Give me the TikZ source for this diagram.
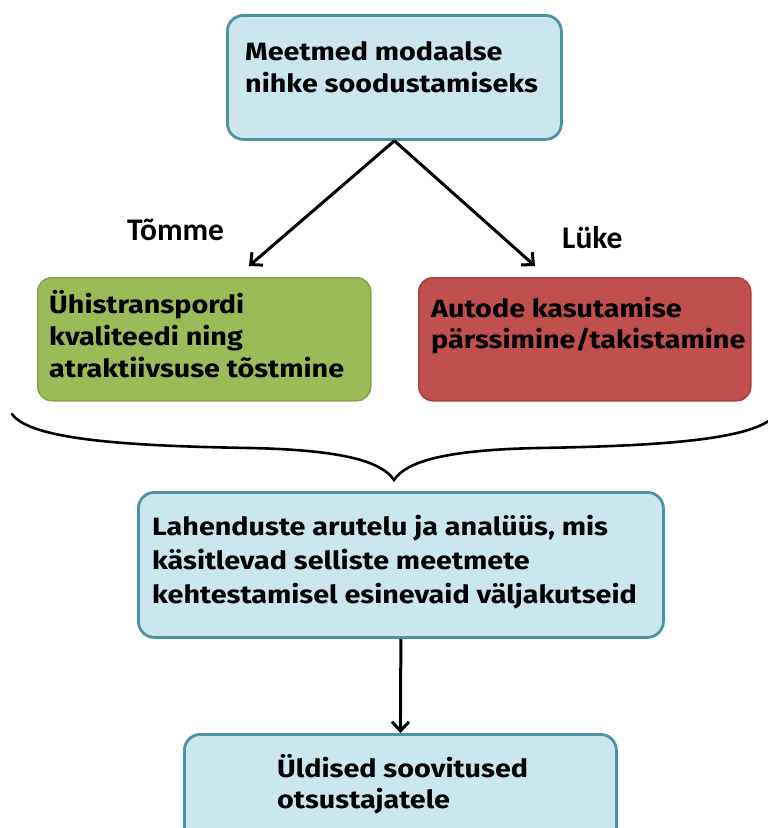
\documentclass[tikz,border=0pt]{standalone}
\usepackage{fontspec}
\setmainfont{Fira Sans}
\newfontfamily\boxfont[FakeStretch=1.15]{Fira Sans}
\newfontfamily\labfont{Carlito}
\usetikzlibrary{arrows.meta}
\definecolor{bluefill}{RGB}{204,230,238}
\definecolor{blueline}{RGB}{78,146,163}
\definecolor{greenfill}{RGB}{155,187,89}
\definecolor{greenline}{RGB}{132,163,74}
\definecolor{redfill}{RGB}{192,80,77}
\definecolor{redline}{RGB}{165,66,63}
\tikzset{
  bluebox/.style={draw=blueline, fill=bluefill, line width=2.8pt, rounded corners=16pt, anchor=north west, inner sep=0pt},
  greenbox/.style={draw=greenline, fill=greenfill, line width=1.5pt, rounded corners=14pt, anchor=north west, inner sep=0pt},
  redbox/.style={draw=redline, fill=redfill, line width=1.5pt, rounded corners=14pt, anchor=north west, inner sep=0pt},
  btxt/.style={anchor=base west, inner sep=0pt, font=\boxfont\bfseries\fontsize{25}{29}\selectfont},
  ltxt/.style={anchor=base west, inner sep=0pt, font=\labfont\bfseries\fontsize{31.5}{35}\selectfont},
  conn/.style={line width=3pt, -{Straight Barb[length=9pt,width=17pt,line width=3pt]}},
}
\begin{document}
\begin{tikzpicture}[x=1pt,y=-1pt]
\useasboundingbox (0,0) rectangle (768,828);
\clip (0,0) rectangle (768,828);
% boxes
\node[bluebox, minimum width=334pt, minimum height=124pt] (top) at (226,14) {};
\node[greenbox, minimum width=333pt, minimum height=123pt] (green) at (37,277) {};
\node[redbox, minimum width=332pt, minimum height=123pt] (red) at (418,277) {};
\node[bluebox, minimum width=525pt, minimum height=145pt] (mid) at (137,491) {};
\node[bluebox, minimum width=432pt, minimum height=120pt] (bot) at (183,733) {};
% texts
\node[btxt] (t1) at (245,60) {Meetmed modaalse};
\node[btxt] (t2) at (245,92) {nihke soodustamiseks};
\node[btxt] (g1) at (49,313) {Ühistranspordi};
\node[btxt] (g2) at (49,345) {kvaliteedi ning};
\node[btxt] (g3) at (49,377) {atraktiivsuse tõstmine};
\node[btxt] (r1) at (431,317) {Autode kasutamise};
\node[btxt] (r2) at (431,348) {pärssimine/takistamine};
\node[btxt] (m1) at (152,535) {Lahenduste arutelu ja analüüs, mis};
\node[btxt] (m2) at (152,569) {käsitlevad selliste meetmete};
\node[btxt] (m3) at (152,603) {kehtestamisel esinevaid väljakutseid};
\node[btxt] (b1) at (277,777) {Üldised soovitused};
\node[btxt] (b2) at (277,808) {otsustajatele};
\node[ltxt] (lt) at (127,240) {Tõmme};
\node[ltxt] (ll) at (562,248) {Lüke};
% connectors
\coordinate (gtip) at (249,266);
\coordinate (rtip) at (535,266);
\draw[conn] (top.south) -- (gtip);
\draw[conn] (top.south) -- (rtip);
\draw[conn] (mid.south) -- (bot.north);
% brace
\coordinate (bl) at (12,414);
\coordinate (bt) at (394,480);
\coordinate (br) at (776,414);
\draw[line width=2.6pt, line cap=round] (bl) .. controls (30,440) and (130,446) .. (250,448)
  .. controls (345,450) and (382,462) .. (bt)
  .. controls (406,462) and (443,450) .. (538,448)
  .. controls (658,446) and (758,440) .. (br);
\end{tikzpicture}
\end{document}
